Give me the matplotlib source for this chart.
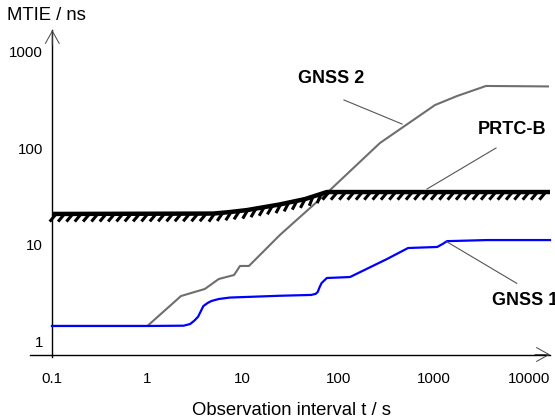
import matplotlib
matplotlib.use('Agg')
import matplotlib.pyplot as plt
import matplotlib.patheffects as pe
from matplotlib import transforms

plt.rcParams['font.family'] = ['Liberation Sans', 'DejaVu Sans']

# GNSS 2 (grau)
gnss2_t = [0.1, 1, 2.25, 4.0, 5.6, 8.1, 9.35, 11.6, 24.5, 78, 274, 1035, 1760, 3540, 15800]
gnss2_mtie = [1.5, 1.5, 3.06, 3.62, 4.59, 5.05, 6.26, 6.26, 13.1, 36.4, 117, 289, 358, 455, 450]

# GNSS 1 (blau)
gnss1_t = [0.1, 1, 2.4, 2.8, 3.1, 3.4, 3.86, 4.3, 4.7, 5.6, 7.3, 24.5, 52, 58, 61, 64, 67, 76, 133,
           325, 540, 1090, 1250, 1380, 3600, 16600]
gnss1_mtie = [1.5, 1.5, 1.51, 1.57, 1.7, 1.87, 2.41, 2.6, 2.72, 2.85, 2.95, 3.08, 3.14, 3.22, 3.37, 3.8,
              4.17, 4.7, 4.81, 7.39, 9.6, 9.84, 10.6, 11.3, 11.6, 11.6]

# PRTC-B Maske
prtc_t = [0.1, 4.9, 7.35, 11.1, 24.5, 45, 76, 16600]
prtc_mtie = [21.6, 21.8, 22.6, 23.7, 27.1, 30.8, 36.4, 36.4]

xticks = [0.1, 1, 10, 100, 1000, 10000]
xtick_labels = ['0.1', '1', '10', '100', '1000', '10000']
yticks = [1, 10, 100, 1000]
ytick_labels = ['1', '10', '100', '1000']

W, H = 555, 419
fig = plt.figure(figsize=(W / 100, H / 100), dpi=100)
ax = fig.add_axes([0, 0, 1, 1])
ax.set_xscale('log')
ax.set_yscale('log')
ax.set_xlim(10 ** -1.545, 10 ** 4.2725)
ax.set_ylim(10 ** -0.786, 10 ** 3.547)
ax.axis('off')


def fp(x, y):
    # Pixel (oben links) -> figure fraction
    return (x / W, 1 - y / H)


tf = fig.transFigure

# Achsen
x0, y0 = fp(30, 354.5)
x1, _ = fp(550, 354.5)
ax.plot([x0, x1], [y0, y0], color='k', lw=1.0, transform=tf)
xa, ya = fp(52.3, 357)
_, yb = fp(52.3, 30)
ax.plot([xa, xa], [ya, yb], color='k', lw=1.0, transform=tf)
arrow = dict(arrowstyle='->,head_length=0.9,head_width=0.5', lw=0.7, color='#444444',
             shrinkA=0, shrinkB=0)
ax.annotate('', xy=fp(550, 354.5), xytext=fp(535, 354.5), xycoords='figure fraction', arrowprops=arrow)
ax.annotate('', xy=fp(52.3, 30), xytext=fp(52.3, 45), xycoords='figure fraction', arrowprops=arrow)

# Kurven
ax.plot(gnss2_t, gnss2_mtie, color='#6e6e6e', lw=1.5, zorder=2)
ax.plot(gnss1_t, gnss1_mtie, color='#0000ff', lw=1.6, zorder=2)
ax.plot(prtc_t, prtc_mtie, color='k', lw=3.2, solid_capstyle='butt', zorder=3,
        path_effects=[pe.withTickedStroke(spacing=6, angle=-130, length=1.2, linewidth=2.2)])

# Beschriftung der Achsen
bx = transforms.blended_transform_factory(ax.transData, tf)
for v, s in zip(xticks, xtick_labels):
    ax.text(v, fp(0, 379)[1], s, transform=bx, ha='center', va='center', fontsize=10.8)
by = transforms.blended_transform_factory(tf, ax.transData)
for v, s in zip(yticks, ytick_labels):
    ax.text(43 / W, v, s, transform=by, ha='right', va='center', fontsize=10.8)

ax.text(*fp(7, 15), 'MTIE / ns', transform=tf, ha='left', va='center', fontsize=13.3)
ax.text(*fp(292, 410), 'Observation interval t / s', transform=tf, ha='center', va='center', fontsize=13.3)

# Kurvenbezeichnungen
ax.text(*fp(331.5, 78.5), 'GNSS 2', transform=tf, ha='center', va='center', fontsize=13, fontweight='bold')
ax.text(*fp(512, 130), 'PRTC-B', transform=tf, ha='center', va='center', fontsize=13, fontweight='bold')
ax.text(*fp(491.7, 300), 'GNSS 1', transform=tf, ha='left', va='center', fontsize=13, fontweight='bold')

lead = dict(color='#555555', lw=0.8, transform=tf)
for (p, q) in [((344, 100), (402, 124)), ((496, 148), (427, 189)), ((446.7, 241.7), (516.7, 283.3))]:
    a, b = fp(*p), fp(*q)
    ax.plot([a[0], b[0]], [a[1], b[1]], **lead)

fig.savefig('out.png', dpi=100)
